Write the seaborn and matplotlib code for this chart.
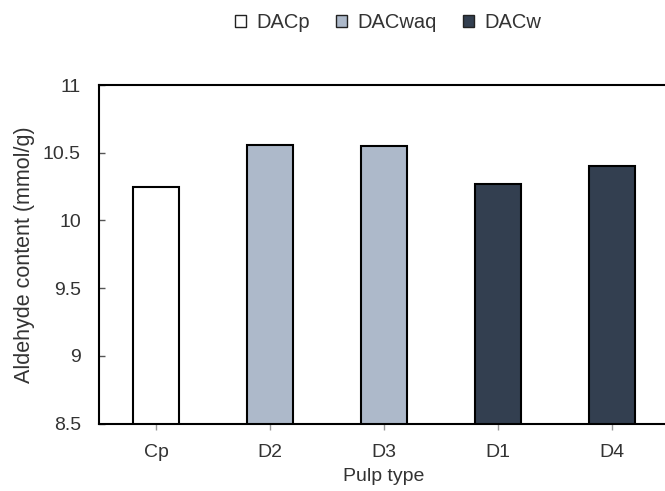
import seaborn as sns
import matplotlib.pyplot as plt
import matplotlib.patches as mpatches
import pandas as pd

# data
pulp = ["Cp", "D2", "D3", "D1", "D4"]
group = ["DACp", "DACwaq", "DACwaq", "DACw", "DACw"]
aldehyde = [10.25, 10.56, 10.55, 10.27, 10.40]

colors = {"DACp": "#ffffff", "DACwaq": "#adb9ca", "DACw": "#333f50"}

df = pd.DataFrame({"pulp": pulp, "group": group, "aldehyde": aldehyde})

sns.set_style("white")
plt.rcParams["font.family"] = ["Liberation Sans", "DejaVu Sans"]
plt.rcParams["text.color"] = "#333333"

fig = plt.figure(figsize=(6.65, 4.91), dpi=100)
ax = fig.add_axes([99 / 665, 67.5 / 491, 570 / 665, 338.5 / 491])

sns.barplot(data=df, x="pulp", y="aldehyde", hue="group", palette=colors,
            dodge=False, width=0.4, saturation=1, edgecolor="black",
            linewidth=1.5, legend=False, ax=ax)

ax.set_ylim(8.5, 11)
ax.set_yticks([8.5, 9, 9.5, 10, 10.5, 11])
ax.set_yticklabels(["8.5", "9", "9.5", "10", "10.5", "11"])
ax.set_xlim(-0.5, 4.5)

for s in ax.spines.values():
    s.set_color("black")
    s.set_linewidth(1.5)

ax.tick_params(axis="y", direction="in", length=4.5, width=1, color="#555555",
               labelsize=14, labelcolor="#333333", pad=13, left=True)
ax.tick_params(axis="x", direction="out", length=4, width=1, color="#999999",
               labelsize=14, labelcolor="#333333", pad=11, bottom=True)

ax.set_xlabel("Pulp type", fontsize=14, color="#333333", labelpad=5)
ax.set_ylabel("Aldehyde content (mmol/g)", fontsize=15.5, color="#333333", labelpad=6)

handles = [mpatches.Patch(facecolor=colors[g], edgecolor="#222222", linewidth=1, label=g)
           for g in ["DACp", "DACwaq", "DACw"]]
fig.legend(handles=handles, loc="center", bbox_to_anchor=(388 / 665, 1 - 23 / 491),
           ncol=3, frameon=False, fontsize=14.5, handlelength=0.55, handleheight=0.55,
           handletextpad=0.5, columnspacing=1.3)

fig.savefig("out.png", dpi=100)
